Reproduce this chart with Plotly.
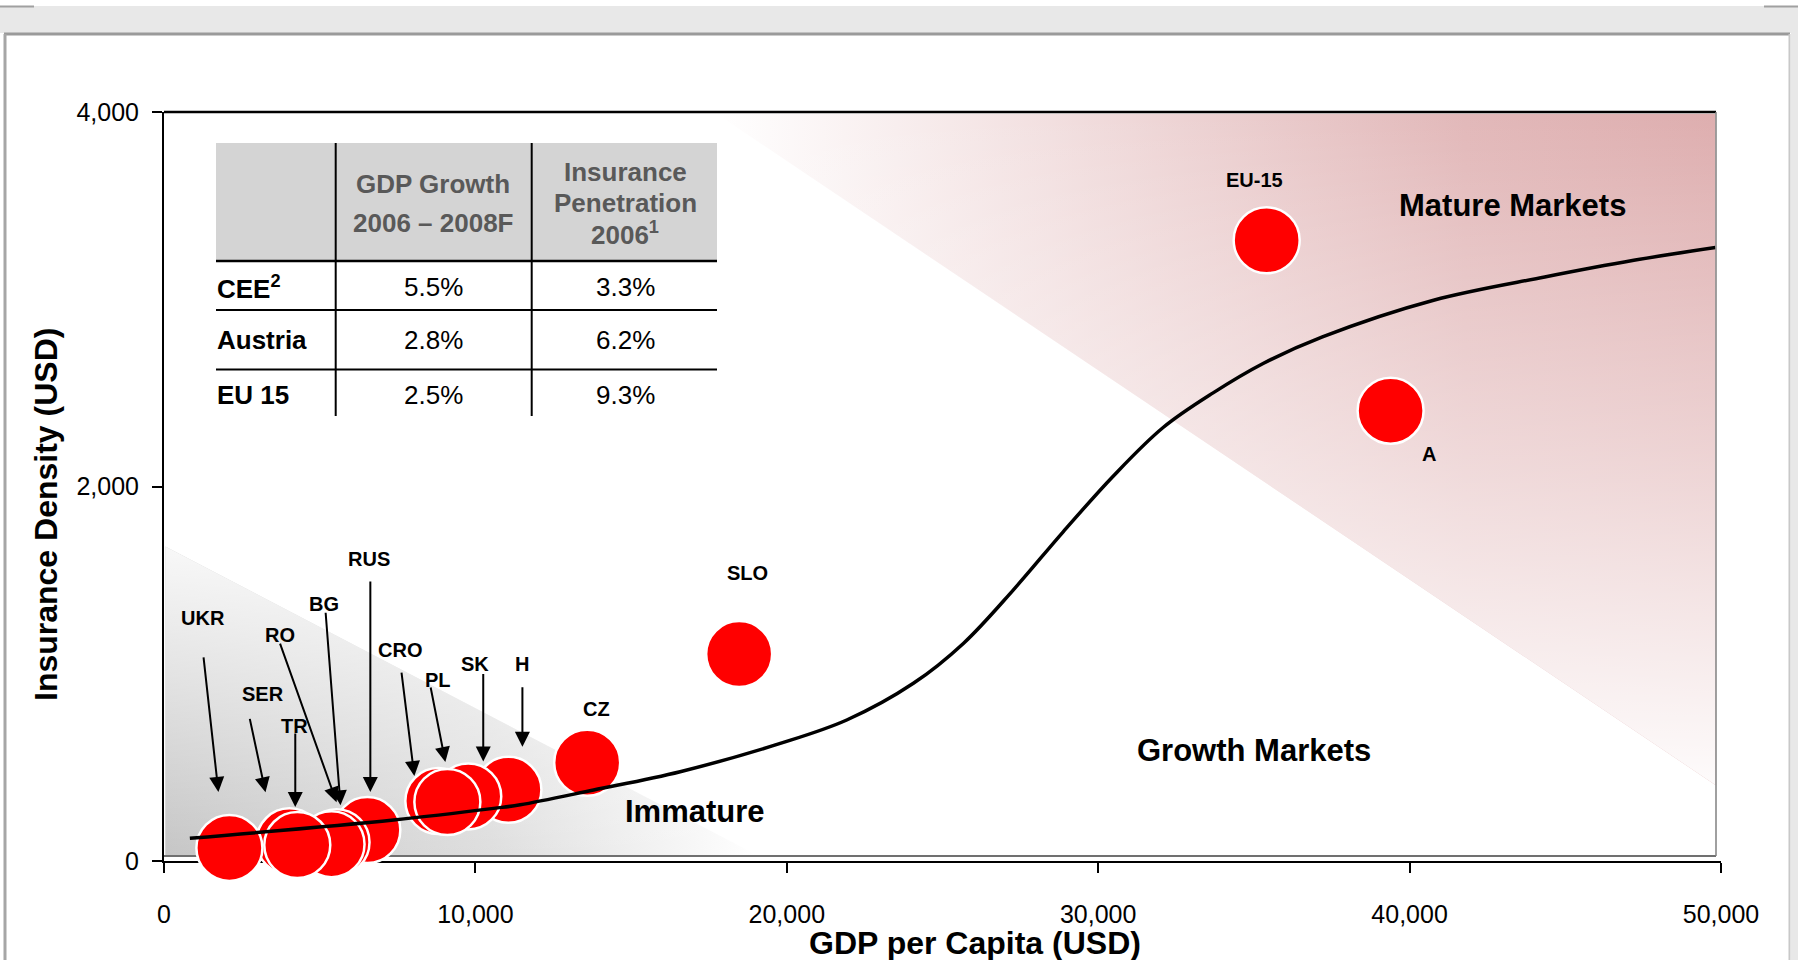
import plotly.graph_objects as go

# ------------------------------------------------------------------ data
countries = ["SLO", "CZ", "EU-15", "A", "H", "SK", "CRO", "PL", "RUS", "BG", "RO", "SER", "TR", "UKR"]
gdp_per_capita = [18470, 13590, 35410, 39390, 11060, 9770, 8810, 9100, 6530, 5540, 5380, 4030, 4280, 2100]
insurance_density = [1105, 525, 3315, 2405, 380, 345, 320, 315, 165, 100, 90, 105, 85, 70]

curve_x = [830, 7375, 10585, 11440, 13795, 16575, 19790, 21925, 24065, 25670, 27270,
           28875, 30480, 32085, 33690, 35295, 37200, 40770, 44340, 47200, 49820]
curve_y = [121, 219, 281, 300, 379, 477, 628, 753, 949, 1162, 1447,
           1758, 2055, 2315, 2500, 2657, 2799, 2995, 3119, 3208, 3276]

immature_x = [40, 40, 19040]
immature_y = [32, 1680, 32]
mature_x = [17750, 49820, 49820]
mature_y = [3990, 3990, 406]

x_ticks = [0, 10000, 20000, 30000, 40000, 50000]
y_ticks = [0, 2000, 4000]

table_header_1 = ["GDP Growth", "2006 – 2008F"]
table_header_2 = ["Insurance", "Penetration", "2006<sup>1</sup>"]
table_rows = ["CEE<sup>2</sup>", "Austria", "EU 15"]
gdp_growth = ["5.5%", "2.8%", "2.5%"]
insurance_penetration = ["3.3%", "6.2%", "9.3%"]

# ------------------------------------------------------------------ styling / layout helpers
FONT = "Liberation Sans, Arial, Helvetica, sans-serif"
W_FIG, H_FIG = 1798, 960
L, T, PW, PH = 164, 112, 1557, 749


def px(xp):
    return (xp - L) / PW


def py(yp):
    return (T + PH - yp) / PH


# label offsets (screen px, relative to bubble centre; dy positive = down)
label_offset = {
    "UKR": (-26, -230), "SER": (-26, -147), "TR": (-3, -119), "RO": (-52, -209),
    "BG": (-13, -238), "RUS": (2, -271), "CRO": (-38, -151), "PL": (-9, -122),
    "SK": (7, -132), "H": (14, -126), "CZ": (9, -54), "SLO": (8, -81),
    "EU-15": (-12, -60), "A": (38, 43),
}
# arrows: tip offset from bubble centre (dx, dy) and tail offset from tip (ax, ay)
arrow_offset = {
    "UKR": (-11, -56, -15, -136), "SER": (-24, -49, -16, -75), "TR": (-2, -38, 0, -75),
    "RO": (5, -42, -57, -160), "BG": (4, -37, -15, -194), "RUS": (3, -38, 0, -212),
    "CRO": (-24, -25, -13, -105), "PL": (-2, -40, -15, -76), "SK": (15, -35, 0, -89),
    "H": (14, -43, 0, -61),
}

fig = go.Figure()

# gradient zones
fig.add_trace(go.Scatter(
    x=immature_x, y=immature_y, mode="none", fill="toself", hoverinfo="skip",
    fillgradient=dict(type="horizontal",
                      colorscale=[[0, "rgb(198,198,198)"], [0.55, "rgb(222,222,222)"],
                                  [1, "rgb(255,255,255)"]]),
    showlegend=False))
fig.add_trace(go.Scatter(
    x=immature_x, y=immature_y, mode="none", fill="toself", hoverinfo="skip",
    fillgradient=dict(type="vertical",
                      colorscale=[[0, "rgba(255,255,255,0)"], [1, "rgba(255,255,255,0.88)"]]),
    showlegend=False))
fig.add_trace(go.Scatter(
    x=mature_x, y=mature_y, mode="none", fill="toself", hoverinfo="skip",
    fillgradient=dict(type="horizontal",
                      colorscale=[[0, "rgb(255,255,255)"], [0.75, "rgb(226,184,185)"],
                                  [1, "rgb(222,174,175)"]]),
    showlegend=False))
fig.add_trace(go.Scatter(
    x=mature_x, y=mature_y, mode="none", fill="toself", hoverinfo="skip",
    fillgradient=dict(type="vertical",
                      colorscale=[[0, "rgba(255,255,255,0.95)"], [0.5, "rgba(255,255,255,0.45)"],
                                  [1, "rgba(255,255,255,0)"]]),
    showlegend=False))

# bubbles
fig.add_trace(go.Scatter(
    x=gdp_per_capita, y=insurance_density, mode="markers", hoverinfo="skip",
    marker=dict(size=66, color="#ff0000", line=dict(color="white", width=2.5)),
    cliponaxis=False, showlegend=False))

# S-curve
fig.add_trace(go.Scatter(
    x=curve_x, y=curve_y, mode="lines", hoverinfo="skip",
    line=dict(color="black", width=3.5, shape="spline", smoothing=1.0),
    showlegend=False))

annotations = []
for c, gx, gy in zip(countries, gdp_per_capita, insurance_density):
    dx, dy = label_offset[c]
    annotations.append(dict(
        x=gx, y=gy, xref="x", yref="y", xshift=dx, yshift=-dy, showarrow=False,
        text="<b>%s</b>" % c, font=dict(family=FONT, size=20, color="black"),
        xanchor="center", yanchor="middle"))
    if c in arrow_offset:
        tdx, tdy, ax, ay = arrow_offset[c]
        annotations.append(dict(
            x=gx, y=gy, xref="x", yref="y", xshift=tdx, yshift=-tdy, text="",
            showarrow=True, ax=ax, ay=ay, arrowhead=2, arrowsize=1.5, arrowwidth=2,
            arrowcolor="black", standoff=0, startstandoff=0))

# zone labels
for txt, xp, yp in [("Immature", 695, 811), ("Growth Markets", 1254, 750),
                    ("Mature Markets", 1512, 205)]:
    annotations.append(dict(x=px(xp), y=py(yp), xref="paper", yref="paper",
                            text="<b>%s</b>" % txt, showarrow=False,
                            font=dict(family=FONT, size=31, color="black"),
                            xanchor="center", yanchor="middle"))

# axis titles
annotations.append(dict(x=px(975), y=py(943), xref="paper", yref="paper",
                        text="<b>GDP per Capita (USD)</b>", showarrow=False,
                        font=dict(family=FONT, size=32, color="black"),
                        xanchor="center", yanchor="middle"))
annotations.append(dict(x=px(46), y=py(515), xref="paper", yref="paper",
                        text="<b>Insurance Density (USD)</b>", showarrow=False, textangle=-90,
                        font=dict(family=FONT, size=32, color="black"),
                        xanchor="center", yanchor="middle"))

# table text
HDR = "#595959"
for t, yp in zip(table_header_1, [184, 223]):
    annotations.append(dict(x=px(433), y=py(yp), xref="paper", yref="paper", text="<b>%s</b>" % t,
                            showarrow=False, font=dict(family=FONT, size=26, color=HDR),
                            xanchor="center", yanchor="middle"))
for t, yp in zip(table_header_2, [172, 203, 234]):
    annotations.append(dict(x=px(625), y=py(yp), xref="paper", yref="paper", text="<b>%s</b>" % t,
                            showarrow=False, font=dict(family=FONT, size=26, color=HDR),
                            xanchor="center", yanchor="middle"))
for r, g, ip, yp in zip(table_rows, gdp_growth, insurance_penetration, [287, 340, 395]):
    annotations.append(dict(x=px(216), y=py(yp), xref="paper", yref="paper", text="<b>%s</b>" % r,
                            showarrow=False, font=dict(family=FONT, size=26, color="black"),
                            xanchor="left", yanchor="middle", borderpad=0))
    annotations.append(dict(x=px(433), y=py(yp), xref="paper", yref="paper", text=g,
                            showarrow=False, font=dict(family=FONT, size=26, color="black"),
                            xanchor="center", yanchor="middle"))
    annotations.append(dict(x=px(625), y=py(yp), xref="paper", yref="paper", text=ip,
                            showarrow=False, font=dict(family=FONT, size=26, color="black"),
                            xanchor="center", yanchor="middle"))

shapes = []


def rect(x0, y0, x1, y1, color, layer="below"):
    shapes.append(dict(type="rect", xref="paper", yref="paper", x0=px(x0), x1=px(x1),
                       y0=py(y1), y1=py(y0), fillcolor=color, line=dict(width=0), layer=layer))


def line(x0, y0, x1, y1, color, width, layer="above"):
    shapes.append(dict(type="line", xref="paper", yref="paper", x0=px(x0), x1=px(x1),
                       y0=py(y0), y1=py(y1), line=dict(color=color, width=width), layer=layer))


# page frame
rect(0, 6, 1798, 33, "#e8e8e8")
rect(1791, 33, 1798, 960, "#e8e8e8")
line(0, 6.5, 34, 6.5, "#a0a0a0", 2)
line(1764, 6.5, 1798, 6.5, "#a0a0a0", 2)
line(4, 34, 1790, 34, "#9a9a9a", 3)
line(5, 34, 5, 960, "#a6a6a6", 3)
line(1789.5, 34, 1789.5, 960, "#c8c8c8", 2)

# plot frame
line(164, 112, 1716, 112, "black", 2.5)
line(1716, 112, 1716, 856, "#808080", 1.5)
line(164, 856, 1716, 856, "#404040", 1.5, layer="below")

# table
rect(216, 143, 717, 260, "#d4d4d4")
line(216, 261, 717, 261, "black", 2.5)
line(216, 310, 717, 310, "black", 2)
line(216, 369.5, 717, 369.5, "black", 2)
line(335.7, 143, 335.7, 416, "black", 2)
line(531.7, 143, 531.7, 416, "black", 2)

fig.update_layout(
    width=W_FIG, height=H_FIG,
    margin=dict(l=L, r=W_FIG - L - PW, t=T, b=H_FIG - T - PH, pad=0),
    paper_bgcolor="white", plot_bgcolor="white",
    hovermode=False, showlegend=False,
    annotations=annotations, shapes=shapes,
    font=dict(family=FONT, color="black"),
)
fig.update_xaxes(range=[0, 50000], tickvals=x_ticks, tickformat=",d", showgrid=False,
                 zeroline=False, showline=True, linecolor="black", linewidth=2,
                 ticks="outside", ticklen=10, tickwidth=2, tickcolor="black",
                 tickfont=dict(family=FONT, size=25, color="black"),
                 ticklabelstandoff=20, layer="below traces", fixedrange=True)
fig.update_yaxes(range=[0, 4000], tickvals=y_ticks, tickformat=",d", showgrid=False,
                 zeroline=False, showline=True, linecolor="black", linewidth=2,
                 ticks="outside", ticklen=10, tickwidth=2, tickcolor="black",
                 tickfont=dict(family=FONT, size=25, color="black"),
                 ticklabelstandoff=8, layer="below traces", fixedrange=True)

fig.write_html("out.html")
